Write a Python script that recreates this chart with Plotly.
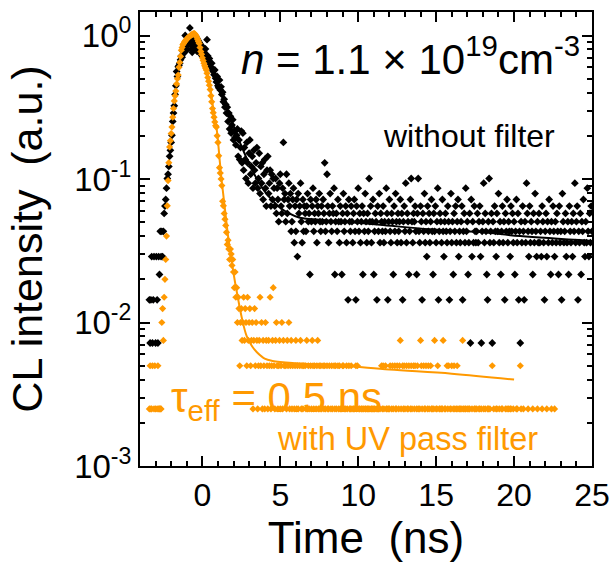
import numpy as np
import plotly.graph_objects as go

# ---------------- data ----------------
# time bins (ns): first bin and bin width of the TCSPC-like histogram
T_START = -3.4
T_BIN = 0.05
# intensity of one count, normalised CL intensity (a.u.)
BLACK_UNIT = 0.0072
ORANGE_UNIT = 0.0025

# "without filter" : counts per time bin
black_counts = [
    2, 1, 2, 4, 1, 2, 4, 0, 1, 4, 2, 1, 4, 3, 6, 4, 6, 4, 6, 8,
    9, 10, 12, 14, 15, 17, 20, 22, 25, 28, 35, 40, 45, 54, 62, 78, 72, 84, 86, 89,
    94, 100, 98, 108, 104, 118, 139, 122, 110, 128, 120, 134, 157, 126, 112, 106, 118, 136, 128, 114,
    122, 108, 116, 124, 110, 104, 112, 118, 100, 108, 96, 104, 112, 94, 130, 100, 92, 96, 88, 84,
    89, 80, 78, 74, 80, 70, 66, 72, 62, 60, 68, 58, 61, 54, 56, 48, 50, 44, 46, 40,
    44, 35, 40, 31, 38, 29, 33, 36, 26, 30, 27, 24, 28, 31, 20, 26, 19, 23, 30, 18,
    29, 16, 23, 19, 14, 25, 18, 13, 21, 26, 15, 17, 20, 12, 22, 16, 13, 18, 23, 12,
    14, 21, 11, 17, 13, 18, 10, 15, 19, 12, 9, 16, 20, 11, 13, 16, 9, 15, 10, 14,
    12, 9, 14, 8, 12, 10, 7, 13, 15, 9, 8, 12, 25, 10, 11, 7, 15, 8, 10, 13,
    9, 11, 6, 7, 10, 12, 5, 9, 6, 10, 4, 11, 8, 9, 13, 7, 5, 10, 6, 9,
    8, 6, 9, 11, 7, 8, 3, 10, 7, 9, 12, 6, 8, 7, 10, 5, 9, 8, 11, 7,
    6, 9, 7, 10, 8, 18, 6, 7, 15, 9, 5, 8, 11, 7, 6, 9, 8, 12, 3, 7,
    8, 6, 10, 7, 5, 9, 7, 3, 8, 11, 6, 7, 9, 5, 8, 2, 10, 7, 6, 9,
    7, 5, 8, 10, 6, 2, 9, 7, 12, 6, 8, 5, 7, 9, 3, 8, 6, 11, 7, 5,
    8, 6, 14, 7, 9, 5, 7, 10, 3, 6, 8, 7, 2, 9, 6, 11, 5, 8, 7, 6,
    9, 5, 7, 6, 12, 8, 2, 7, 10, 6, 5, 8, 7, 3, 9, 6, 11, 7, 5, 8,
    6, 7, 10, 5, 8, 2, 7, 9, 6, 13, 5, 8, 7, 3, 6, 10, 14, 7, 5, 8,
    7, 9, 6, 3, 8, 14, 6, 5, 9, 7, 2, 8, 6, 11, 5, 7, 4, 9, 6, 8,
    5, 7, 10, 6, 3, 8, 6, 9, 5, 7, 12, 2, 6, 8, 7, 5, 10, 6, 4, 7,
    8, 6, 5, 9, 7, 2, 6, 11, 5, 7, 3, 8, 6, 9, 5, 7, 10, 4, 6, 5,
    7, 9, 2, 6, 8, 5, 12, 6, 7, 3, 5, 8, 1, 10, 4, 7, 5, 9, 6, 5,
    6, 8, 5, 7, 9, 4, 1, 6, 7, 13, 5, 8, 6, 3, 2, 7, 14, 5, 6, 8,
    1, 7, 5, 9, 6, 4, 8, 6, 11, 5, 7, 3, 6, 9, 5, 7, 2, 8, 6, 10,
    5, 7, 6, 4, 9, 6, 8, 5, 7, 3, 6, 10, 5, 8, 2, 6, 1, 7, 5, 9,
    6, 2, 7, 5, 13, 8, 6, 4, 9, 5, 7, 6, 3, 8, 5, 11, 6, 4, 7, 5,
    8, 5, 6, 4, 9, 7, 5, 2, 6, 8, 4, 7, 5, 10, 6, 3, 7, 5, 9, 6,
    4, 7, 5, 8, 6, 3, 9, 5, 6, 2, 11, 7, 5, 6, 8, 4, 5, 7, 3, 9,
    6, 5, 7, 4, 8, 6, 13, 5, 7, 9, 2, 6, 5, 8, 3, 7, 6, 10, 5, 4,
    7, 5, 12, 6, 4, 8, 5, 9, 6,
]

# "with UV pass filter" : counts per time bin
orange_counts = [
    1, 2, 1, 1, 2, 0, 1, 2, 1, 0, 1, 2, 1, 1, 1, 1, 4, 5, 3, 6,
    8, 11, 16, 26, 39, 52, 67, 74, 83, 92, 108, 124, 140, 152, 164, 184, 200, 212, 240, 260,
    286, 316, 330, 345, 352, 360, 366, 372, 378, 384, 388, 392, 396, 400, 404, 408, 410, 412, 412, 406,
    398, 388, 376, 364, 352, 330, 310, 296, 280, 268, 256, 246, 238, 230, 218, 204, 192, 180, 168, 152,
    138, 124, 116, 108, 100, 94, 92, 80, 72, 58, 48, 44, 40, 36, 28, 26, 23, 21, 19, 17,
    14, 15, 13, 11, 13, 12, 10, 11, 9, 7, 9, 6, 7, 4, 6, 5, 2, 4, 5, 3,
    4, 6, 3, 5, 4, 2, 6, 3, 4, 5, 2, 3, 4, 1, 3, 5, 2, 4, 3, 1,
    2, 3, 6, 2, 4, 1, 3, 2, 1, 4, 3, 2, 1, 3, 2, 6, 1, 2, 3, 7,
    2, 1, 3, 4, 2, 1, 2, 3, 1, 2, 4, 1, 3, 2, 0, 2, 1, 3, 2, 4,
    1, 2, 3, 1, 2, 0, 1, 2, 3, 1, 2, 1, 0, 2, 3, 1, 2, 1, 2, 0,
    2, 1, 3, 1, 2, 1, 0, 2, 1, 3, 2, 1, 2, 0, 1, 2, 3, 1, 2, 1,
    2, 1, 0, 2, 1, 2, 1, 0, 2, 1, 1, 2, 0, 1, 2, 1, 0, 2, 1, 2,
    1, 0, 2, 1, 2, 1, 0, 1, 2, 2, 1, 0, 1, 2, 1, 0, 2, 1, 1, 2,
    1, 0, 1, 1, 0, 2, 1, 2, 0, 1, 1, 0, 1, 1, 0, 1, 0, 1, 1, 0,
    1, 1, 0, 1, 0, 1, 1, 0, 1, 1, 0, 1, 0, 1, 1, 0, 1, 0, 2, 1,
    2, 1, 0, 2, 1, 1, 0, 1, 1, 2, 0, 1, 2, 1, 0, 2, 1, 1, 2, 0,
    1, 2, 3, 1, 0, 2, 1, 2, 1, 0, 2, 1, 1, 2, 0, 1, 2, 1, 0, 2,
    1, 2, 0, 1, 2, 1, 0, 1, 3, 2, 1, 0, 2, 1, 1, 2, 0, 1, 2, 1,
    0, 2, 1, 1, 0, 1, 3, 0, 1, 1, 2, 0, 1, 1, 0, 1, 1, 3, 0, 1,
    1, 0, 2, 1, 2, 0, 1, 1, 2, 0, 1, 2, 1, 0, 1, 2, 1, 0, 1, 1,
    0, 1, 3, 1, 0, 1, 1, 0, 1, 0, 1, 1, 0, 0, 1, 0, 0, 1, 1, 0,
    1, 0, 0, 1, 1, 0, 1, 0, 0, 1, 0, 1, 0, 0, 1, 1, 0, 1, 0, 0,
    2, 0, 1, 0, 0, 1, 1, 0, 0, 1, 0, 0, 1, 1, 0, 0, 0, 1, 0, 1,
    0, 1, 0, 1, 1, 0, 0, 1, 0, 0, 0, 1, 1, 0, 0, 0, 2, 1, 0, 0,
    1, 0, 0, 0, 0, 0, 1, 0, 0, 0, 0, 0, 1, 0, 0, 0, 0, 0, 1, 0,
    0, 0, 0, 0, 1, 0, 0, 0, 0, 0, 1, 0, 0, 0, 0, 0, 1, 0, 0, 0,
    1,
]

# fitted decay curves
black_fit_t = [-0.3, 0.2, 0.6, 1.0, 1.5, 2.0, 2.5, 3.0, 3.5, 4.0, 4.5, 5.0, 5.5,
               6.2, 7.5, 9.5, 11.4, 14.6, 17.8, 20.4, 25.0]
black_fit_v = [1.0, 0.80, 0.62, 0.47, 0.33, 0.235, 0.17, 0.128, 0.10, 0.082, 0.071,
               0.063, 0.058, 0.054, 0.052, 0.050, 0.048, 0.0446, 0.0427, 0.040, 0.037]

orange_fit_t = [-0.55, -0.2, 0.0, 0.3, 0.5, 0.7, 0.95, 1.1, 1.25, 1.45, 1.65, 1.9,
                2.1, 2.3, 2.5, 2.85, 3.2, 3.5, 4.0, 4.5, 6.0, 9.0, 12.0, 16.0, 20.0]
orange_fit_v = [1.02, 0.88, 0.72, 0.56, 0.44, 0.31, 0.21, 0.14, 0.095, 0.062, 0.040,
                0.026, 0.019, 0.0145, 0.0112, 0.0080, 0.0068, 0.0062, 0.0056, 0.0054,
                0.0052, 0.0050, 0.0047, 0.0044, 0.0040]

x_tick_vals = [0, 5, 10, 15, 20, 25]
y_tick_vals = [1e-3, 1e-2, 1e-1, 1]
y_tick_text = ["10<sup>-3</sup>", "10<sup>-2</sup>", "10<sup>-1</sup>", "10<sup>0</sup>"]

# ---------------- build ----------------
def to_series(counts, unit):
    c = np.asarray(counts, dtype=float)
    t = np.round(T_START + T_BIN * np.arange(len(c)), 3)
    keep = c > 0
    return t[keep], c[keep] * unit

bt, bv = to_series(black_counts, BLACK_UNIT)
ot, ov = to_series(orange_counts, ORANGE_UNIT)

BLACK = "#000000"
ORANGE = "#FF9900"
FONT = "Liberation Sans, Arial, Helvetica, sans-serif"

fig = go.Figure()
fig.add_trace(go.Scatter(x=bt, y=bv, mode="markers", name="without filter",
                         marker=dict(symbol="diamond", size=6, color=BLACK, line=dict(width=0))))
fig.add_trace(go.Scatter(x=black_fit_t, y=black_fit_v, mode="lines", name="fit (without filter)",
                         line=dict(color=BLACK, width=2, shape="spline")))
fig.add_trace(go.Scatter(x=ot, y=ov, mode="markers", name="with UV pass filter",
                         marker=dict(symbol="diamond", size=5.5, color=ORANGE, line=dict(width=0))))
fig.add_trace(go.Scatter(x=orange_fit_t, y=orange_fit_v, mode="lines", name="fit (with UV pass filter)",
                         line=dict(color=ORANGE, width=2, shape="spline")))

minor_y = [m * 10.0 ** e for e in (-3, -2, -1, 0) for m in range(2, 10)]

axis_common = dict(showline=True, linewidth=2, linecolor="black", mirror="ticks",
                   ticks="inside", ticklen=10, tickwidth=2, tickcolor="black",
                   showgrid=False, zeroline=False, automargin=False)

fig.update_layout(
    width=613, height=567,
    margin=dict(l=140, r=21, t=12, b=101),
    paper_bgcolor="white", plot_bgcolor="white",
    showlegend=False,
    font=dict(family=FONT, color="black"),
    xaxis=dict(range=[-4, 25], tickvals=x_tick_vals,
               tickfont=dict(family=FONT, size=32, color="black"),
               minor=dict(dtick=1, ticks="inside", ticklen=5, tickwidth=2, tickcolor="black", showgrid=False),
               title=dict(text="Time\u00a0\u00a0(ns)", font=dict(family=FONT, size=44), standoff=8),
               **axis_common),
    yaxis=dict(type="log", range=[-3, 0.164], tickvals=y_tick_vals, ticktext=y_tick_text,
               tickfont=dict(family=FONT, size=33, color="black"),
               minor=dict(tickvals=minor_y, ticks="inside", ticklen=5, tickwidth=2, tickcolor="black", showgrid=False),
               title=dict(text="CL intensity\u00a0\u00a0(a.u.)", font=dict(family=FONT, size=43), standoff=18),
               **axis_common),
)

ann = [
    dict(text="<i>n</i> = 1.1 × 10<sup>19</sup>cm<sup>-3</sup>", x=0.219, y=0.902,
         font=dict(family=FONT, size=42, color=BLACK)),
    dict(text="without filter", x=0.533, y=0.726,
         font=dict(family=FONT, size=32, color=BLACK)),
    dict(text="τ<sub>eff</sub> = 0.5 ns", x=0.064, y=0.145,
         font=dict(family=FONT, size=42, color=ORANGE)),
    dict(text="with UV pass filter", x=0.299, y=0.060,
         font=dict(family=FONT, size=32.5, color=ORANGE)),
]
for a in ann:
    fig.add_annotation(xref="paper", yref="paper", xanchor="left", yanchor="middle",
                       showarrow=False, **a)

fig.write_html("out.html", config={"displayModeBar": False},
               post_script="document.body.style.margin='0px';")
